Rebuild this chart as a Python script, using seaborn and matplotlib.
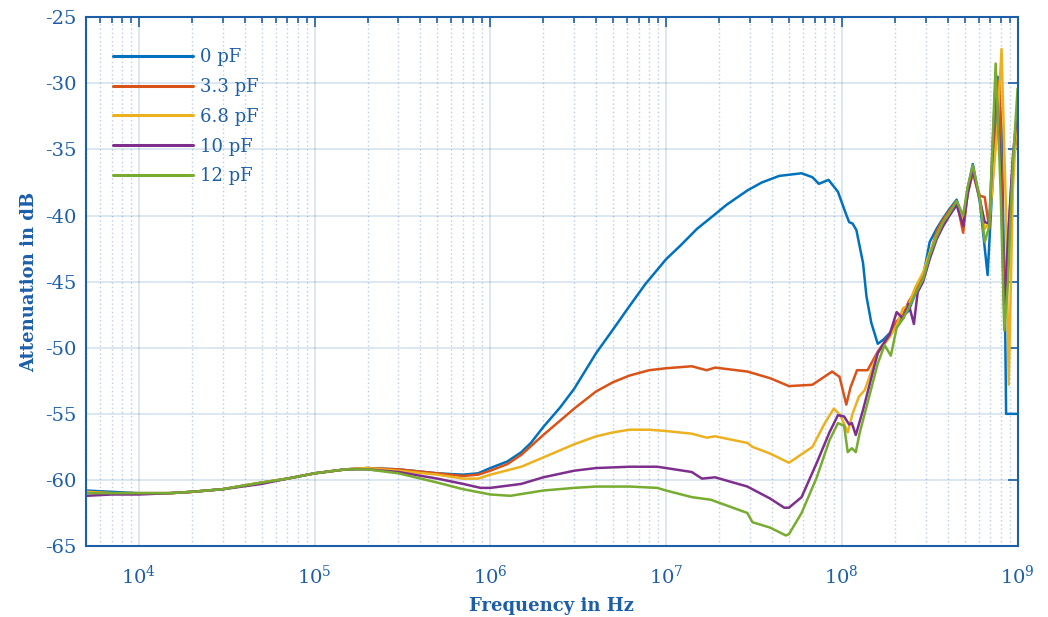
import matplotlib
matplotlib.use('Agg')
import matplotlib.pyplot as plt
import matplotlib.ticker as mticker
import pandas as pd
import seaborn as sns


labels = ['0 pF', '3.3 pF', '6.8 pF', '10 pF', '12 pF']
colors = ['#0072BD', '#D95319', '#EDB120', '#7E2F8E', '#77AC30']

# 0 pF
f_0 = [5e3, 7e3, 1e4, 1.5e4, 2e4, 3e4, 5e4, 7e4, 1e5, 1.5e5, 2e5, 3e5, 5e5, 7e5,
       8.5e5, 1e6, 1.25e6, 1.5e6, 1.7e6, 2e6, 2.5e6, 3e6, 4e6, 5e6, 6e6, 7.6e6,
       1e7, 1.2e7, 1.5e7, 1.86e7, 2.2e7, 2.9e7, 3.5e7, 4.4e7, 5.9e7, 6.8e7, 7.4e7,
       8.4e7, 9.5e7, 1.05e8, 1.1e8, 1.15e8, 1.21e8, 1.32e8, 1.38e8, 1.47e8, 1.6e8,
       1.72e8, 1.87e8, 2.05e8, 2.23e8, 2.4e8, 2.6e8, 2.9e8, 3.16e8, 3.46e8, 3.77e8,
       4.1e8, 4.5e8, 4.9e8, 5.2e8, 5.56e8, 6.1e8, 6.75e8, 7.1e8, 7.4e8, 7.7e8,
       8.1e8, 8.5e8, 8.6e8, 1e9]
db_0 = [-60.8, -60.9, -61.0, -61.0, -60.9, -60.7, -60.2, -59.9, -59.5, -59.2,
        -59.1, -59.2, -59.5, -59.6, -59.5, -59.1, -58.6, -57.9, -57.2, -56.0,
        -54.5, -53.1, -50.4, -48.6, -47.1, -45.2, -43.3, -42.3, -41.0, -40.0,
        -39.2, -38.1, -37.5, -37.0, -36.8, -37.1, -37.6, -37.3, -38.2, -39.8,
        -40.5, -40.6, -41.1, -43.6, -46.1, -48.1, -49.7, -49.4, -48.9, -48.2,
        -47.6, -47.2, -46.0, -44.6, -42.0, -41.0, -40.2, -39.5, -38.8, -40.3,
        -38.0, -36.1, -39.0, -44.5, -39.0, -34.8, -29.5, -33.5, -48.5, -55.0, -55.0]

# 3.3 pF
f_33 = [5e3, 7e3, 1e4, 1.5e4, 2e4, 3e4, 5e4, 7e4, 1e5, 1.5e5, 2e5, 3e5, 5e5, 7e5,
        8.5e5, 1e6, 1.25e6, 1.5e6, 2e6, 2.5e6, 3e6, 4e6, 5e6, 6.2e6, 8e6, 1e7,
        1.4e7, 1.7e7, 1.9e7, 2.9e7, 3.9e7, 5e7, 6.8e7, 8.8e7, 9.7e7, 1.06e8,
        1.12e8, 1.22e8, 1.4e8, 1.6e8, 1.87e8, 2.05e8, 2.23e8, 2.4e8, 2.6e8, 2.9e8,
        3.16e8, 3.46e8, 3.77e8, 4.1e8, 4.5e8, 4.9e8, 5.2e8, 5.56e8, 6.1e8, 6.5e8,
        6.9e8, 7.4e8, 7.9e8, 8.4e8, 8.8e8, 9.4e8, 1e9]
db_33 = [-60.9, -61.0, -61.0, -61.0, -60.9, -60.7, -60.2, -59.9, -59.5, -59.2,
         -59.1, -59.2, -59.5, -59.7, -59.6, -59.3, -58.8, -58.1, -56.6, -55.5,
         -54.6, -53.3, -52.6, -52.1, -51.7, -51.55, -51.4, -51.7, -51.5, -51.8,
         -52.3, -52.9, -52.8, -51.8, -52.2, -54.3, -53.0, -51.7, -51.7, -50.3,
         -49.0, -48.0, -47.5, -46.5, -45.8, -44.5, -43.0, -41.2, -40.3, -39.6,
         -38.9, -41.3, -38.2, -36.8, -38.5, -38.6, -41.0, -33.0, -29.8, -46.5,
         -42.0, -36.0, -33.6]

# 6.8 pF
f_68 = [5e3, 7e3, 1e4, 1.5e4, 2e4, 3e4, 5e4, 7e4, 1e5, 1.5e5, 2e5, 3e5, 5e5, 7e5,
        8.5e5, 1e6, 1.5e6, 2e6, 3e6, 4e6, 5e6, 6.2e6, 8e6, 1e7, 1.4e7, 1.7e7,
        1.9e7, 2.9e7, 3.1e7, 3.9e7, 5e7, 6.8e7, 8e7, 9e7, 9.8e7, 1.08e8, 1.15e8,
        1.25e8, 1.35e8, 1.6e8, 1.87e8, 2.05e8, 2.23e8, 2.4e8, 2.6e8, 2.9e8, 3.16e8,
        3.46e8, 3.77e8, 4.1e8, 4.5e8, 4.9e8, 5.2e8, 5.56e8, 6.1e8, 6.5e8, 6.9e8,
        7.3e8, 7.7e8, 8.1e8, 8.6e8, 8.9e8, 9.4e8, 1e9]
db_68 = [-60.9, -61.0, -61.0, -61.0, -60.9, -60.7, -60.2, -59.9, -59.5, -59.2,
         -59.1, -59.3, -59.6, -59.9, -59.9, -59.6, -59.0, -58.3, -57.3, -56.7,
         -56.4, -56.2, -56.2, -56.3, -56.5, -56.8, -56.7, -57.2, -57.5, -58.0,
         -58.7, -57.5, -55.7, -54.6, -55.1, -56.4, -55.0, -53.7, -53.2, -50.4,
         -49.2, -48.3, -47.0, -46.8, -45.5, -44.3, -42.8, -41.5, -40.5, -39.8,
         -39.0, -40.5, -38.3, -36.8, -38.8, -41.0, -40.5, -36.8, -33.0, -27.4,
         -40.0, -52.8, -38.0, -31.5]

# 10 pF
f_10 = [5e3, 7e3, 1e4, 1.5e4, 2e4, 3e4, 5e4, 7e4, 1e5, 1.5e5, 2e5, 3e5, 5e5, 7e5,
        8.8e5, 1e6, 1.5e6, 2e6, 3e6, 4e6, 6.2e6, 8.9e6, 1e7, 1.4e7, 1.6e7, 1.9e7,
        2.9e7, 3.2e7, 3.9e7, 4.7e7, 5e7, 5.9e7, 7.2e7, 8.5e7, 9.5e7, 1.03e8, 1.1e8,
        1.14e8, 1.2e8, 1.32e8, 1.6e8, 1.87e8, 2.05e8, 2.23e8, 2.4e8, 2.57e8, 2.7e8,
        2.9e8, 3.16e8, 3.46e8, 3.77e8, 4.1e8, 4.5e8, 4.9e8, 5.2e8, 5.56e8, 6.1e8,
        6.5e8, 6.9e8, 7.5e8, 8.0e8, 8.4e8, 8.8e8, 9.4e8, 1e9]
db_10 = [-61.2, -61.1, -61.1, -61.0, -60.9, -60.7, -60.3, -59.9, -59.5, -59.2,
         -59.2, -59.4, -59.9, -60.3, -60.6, -60.6, -60.3, -59.8, -59.3, -59.1,
         -59.0, -59.0, -59.1, -59.4, -59.9, -59.8, -60.5, -60.8, -61.4, -62.1,
         -62.1, -61.3, -58.7, -56.4, -55.1, -55.2, -55.8, -55.7, -56.6, -54.7,
         -50.4, -49.0, -47.3, -47.8, -46.7, -48.2, -45.8, -45.0, -43.3, -41.8,
         -40.8, -40.0, -39.2, -40.8, -38.4, -36.6, -38.8, -40.5, -40.6, -29.7,
         -36.0, -47.5, -42.0, -35.5, -31.7]

# 12 pF
f_12 = [5e3, 7e3, 1e4, 1.5e4, 2e4, 3e4, 5e4, 7e4, 1e5, 1.5e5, 2e5, 3e5, 5e5, 7e5,
        1e6, 1.3e6, 2e6, 3e6, 4e6, 6.2e6, 8.9e6, 1e7, 1.4e7, 1.8e7, 2.9e7, 3.1e7,
        3.9e7, 4.8e7, 5e7, 5.9e7, 7.2e7, 8.5e7, 9.5e7, 1.03e8, 1.08e8, 1.14e8,
        1.2e8, 1.26e8, 1.6e8, 1.75e8, 1.9e8, 2.05e8, 2.23e8, 2.4e8, 2.6e8, 2.9e8,
        3.16e8, 3.46e8, 3.77e8, 4.1e8, 4.5e8, 4.9e8, 5.2e8, 5.56e8, 6.1e8, 6.5e8,
        6.9e8, 7.5e8, 8.0e8, 8.4e8, 8.8e8, 9.4e8, 1e9]
db_12 = [-61.0, -61.0, -61.0, -61.0, -60.9, -60.7, -60.2, -59.9, -59.5, -59.2,
         -59.2, -59.5, -60.2, -60.7, -61.1, -61.2, -60.8, -60.6, -60.5, -60.5,
         -60.6, -60.8, -61.3, -61.5, -62.5, -63.2, -63.6, -64.2, -64.1, -62.5,
         -59.8, -57.0, -55.7, -55.9, -57.9, -57.6, -57.9, -56.5, -51.2, -49.8,
         -50.6, -48.5, -47.8, -47.0, -46.0, -44.8, -43.0, -41.6, -40.5, -39.8,
         -38.9, -40.0, -37.8, -36.2, -38.7, -42.0, -40.8, -28.5, -38.0, -48.7,
         -45.2, -36.0, -30.4]


def main():
    sns.set_style('white')
    plt.rcParams['font.family'] = ['DejaVu Serif']
    plt.rcParams['mathtext.fontset'] = 'dejavuserif'
    plt.rcParams['axes.unicode_minus'] = False
    axcol = '#1c5fa8'

    series = [(f_0, db_0), (f_33, db_33), (f_68, db_68), (f_10, db_10), (f_12, db_12)]
    frames = []
    for lab, (f, d) in zip(labels, series):
        frames.append(pd.DataFrame({'freq': f, 'db': d, 'cap': lab}))
    df = pd.concat(frames, ignore_index=True)

    fig = plt.figure(figsize=(10.48, 6.17), dpi=100)
    ax = fig.add_axes([0.082, 0.115, 0.889, 0.857])
    ax.set_xscale('log')

    sns.lineplot(data=df, x='freq', y='db', hue='cap', hue_order=labels,
                 palette=colors, estimator=None, sort=False, linewidth=1.8, ax=ax)

    ax.set_xlim(5e3, 1e9)
    ax.set_ylim(-65, -25)
    ax.set_yticks(range(-65, -24, 5))
    ax.xaxis.set_major_locator(mticker.LogLocator(base=10, numticks=12))
    ax.xaxis.set_minor_locator(mticker.LogLocator(base=10, subs=range(2, 10), numticks=12))
    ax.xaxis.set_minor_formatter(mticker.NullFormatter())

    ax.grid(True, which='major', color=axcol, alpha=0.18, linewidth=1.2)
    ax.grid(True, which='minor', axis='x', color=axcol, alpha=0.3,
            linestyle=(0, (1, 2)), linewidth=1.0)
    ax.set_axisbelow(True)

    for s in ax.spines.values():
        s.set_color(axcol)
        s.set_linewidth(1.5)
    ax.tick_params(which='both', direction='in', top=True, right=True,
                   color=axcol, labelcolor=axcol, width=1.2)
    ax.tick_params(which='major', length=7, labelsize=14)
    ax.tick_params(which='minor', length=4)
    ax.tick_params(axis='x', which='major', pad=13)
    ax.tick_params(axis='y', which='major', pad=7)

    ax.set_xlabel('Frequency in Hz', fontsize=13, fontweight='bold', color=axcol, labelpad=7)
    ax.set_ylabel('Attenuation in dB', fontsize=13, fontweight='bold', color=axcol, labelpad=5)

    handles, labs = ax.get_legend_handles_labels()
    leg = ax.legend(handles, labs, loc='upper left', bbox_to_anchor=(0.012, 0.972),
                    frameon=False, handlelength=4.4, fontsize=13, labelspacing=0.65,
                    handletextpad=0.4, labelcolor=axcol)
    for line in leg.get_lines():
        line.set_linewidth(2.2)

    fig.savefig('out.png', dpi=100)


if __name__ == "__main__":
    main()
